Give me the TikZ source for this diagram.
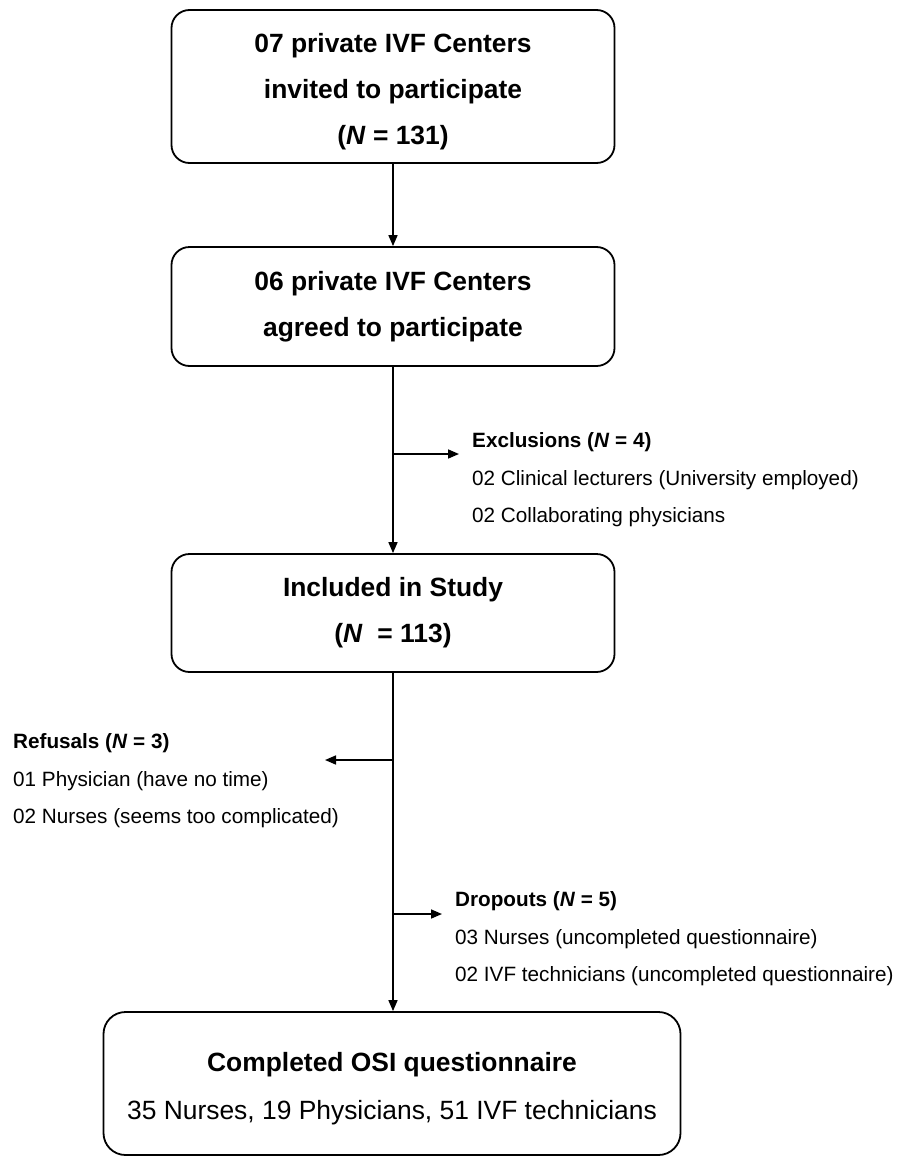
\documentclass[tikz,border=0pt]{standalone}
\usepackage{fontspec}
\setmainfont{Liberation Sans}
\usetikzlibrary{arrows.meta}
\begin{document}
\begin{tikzpicture}[x=1pt,y=-1pt,
  box/.style={draw, line width=1.8pt, rounded corners=18pt, minimum width=443pt, align=center, inner sep=0pt},
  ttl/.style={font=\fontsize{26.4}{46}\selectfont\bfseries},
  side/.style={align=left, anchor=west, inner sep=0pt, font=\fontsize{20.7}{37.5}\selectfont},
  arr/.style={line width=1.6pt, -{Triangle[length=11pt,width=9pt]}}]
\useasboundingbox (0,0) rectangle (909,1159);
\node[box, ttl, minimum height=153pt] (b1) at (393,86.5) {\rule{0pt}{29pt}07 private IVF Centers\\invited to participate\\(\textit{N} = 131)};
\node[box, ttl, minimum height=119pt] (b2) at (393,306.5) {06 private IVF Centers\\agreed to participate};
\node[box, ttl, minimum height=118pt] (b3) at (393,613) {Included in Study\\(\textit{N}\ \ = 113)};
\node[box, rounded corners=22pt, minimum width=577pt, minimum height=143pt, font=\fontsize{26.4}{48}\selectfont] (b4) at (392,1083.5) {\rule{0pt}{29pt}\textbf{Completed OSI questionnaire}\\35 Nurses, 19 Physicians, 51 IVF technicians};
\draw[arr] (b1) -- (b2);
\draw[arr] (b2) -- (b3);
\draw[arr] (b3.south) -- (b3.south |- b4.north);
\coordinate (exE) at (459,454);
\draw[arr] (b2.south |- exE) -- (exE);
\coordinate (reE) at (325,760);
\draw[arr] (b3.south |- reE) -- (reE);
\coordinate (drE) at (442,914);
\draw[arr] (b3.south |- drE) -- (drE);
\node[side] (exc) at (472,480) {\textbf{Exclusions (\textit{N} = 4)}\\02 Clinical lecturers (University employed)\\02 Collaborating physicians};
\node[side] (ref) at (13,781) {\textbf{Refusals (\textit{N} = 3)}\\01 Physician (have no time)\\02 Nurses (seems too complicated)};
\node[side] (drp) at (455,939) {\textbf{Dropouts (\textit{N} = 5)}\\03 Nurses (uncompleted questionnaire)\\02 IVF technicians (uncompleted questionnaire)};
\end{tikzpicture}
\end{document}
